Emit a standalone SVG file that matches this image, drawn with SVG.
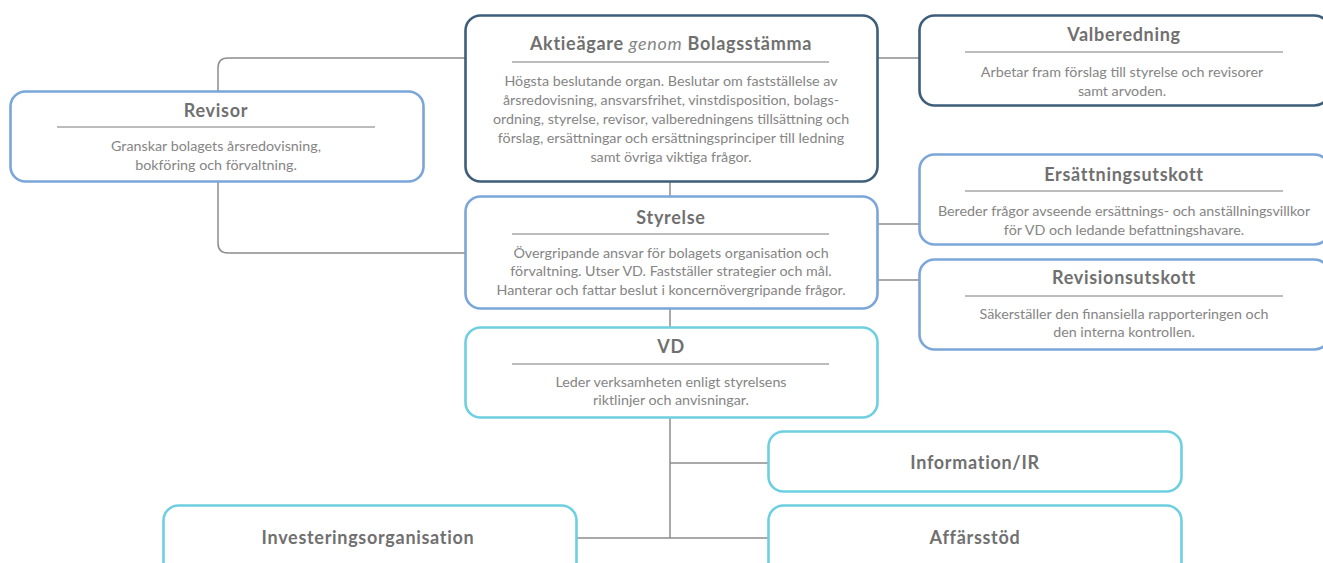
<svg xmlns="http://www.w3.org/2000/svg" width="1323" height="563" viewBox="0 0 1323 563">
<style>
.box{fill:#fff;stroke-width:2.6}
.dark{stroke:#3d5e7a}
.blue{stroke:#7aa6d9}
.cyan{stroke:#6ecfe2}
.sep{stroke:#7a7a7a;stroke-width:1}
.conn{fill:none;stroke:#8c8c8c;stroke-width:1.5}
.t{font-family:Lato,"Open Sans",sans-serif;font-size:18px;font-weight:bold;letter-spacing:0.7px;fill:#707070;text-anchor:middle}
.b{font-family:Lato,"Open Sans",sans-serif;font-size:14.3px;font-weight:normal;fill:#858585;text-anchor:middle}
</style>
<rect width="1323" height="563" fill="#fff"/>
<g id="connectors">
<path class="conn" d="M465 58 H228 Q218 58 218 68 V243 Q218 253 228 253 H465"/>
<path class="conn" d="M877 58 H919"/>
<path class="conn" d="M670 181 V197"/>
<path class="conn" d="M877 224 H919"/>
<path class="conn" d="M877 280 H919"/>
<path class="conn" d="M670 309 V328"/>
<path class="conn" d="M670 418 V538"/>
<path class="conn" d="M670 463 H768"/>
<path class="conn" d="M577 538 H768"/>
</g>
<g id="aktieagare">
<rect class="box dark" x="465.5" y="15.5" width="412" height="166" rx="15"/>
<text class="t" x="671" y="50">Aktieägare <tspan font-style="italic" font-weight="normal" fill="#858585">genom</tspan> Bolagsstämma</text>
<line class="sep" x1="512" y1="62" x2="829" y2="62"/>
<text class="b" x="671" y="86">Högsta beslutande organ. Beslutar om fastställelse av</text>
<text class="b" x="671" y="105">årsredovisning, ansvarsfrihet, vinstdisposition, bolags-</text>
<text class="b" x="671" y="124">ordning, styrelse, revisor, valberedningens tillsättning och</text>
<text class="b" x="671" y="143">förslag, ersättningar och ersättningsprinciper till ledning</text>
<text class="b" x="671" y="162">samt övriga viktiga frågor.</text>
</g>
<g id="valberedning">
<rect class="box dark" x="919.5" y="15.5" width="410" height="90" rx="15"/>
<text class="t" x="1124" y="41">Valberedning</text>
<line class="sep" x1="965" y1="52" x2="1283" y2="52"/>
<text class="b" x="1122" y="77">Arbetar fram förslag till styrelse och revisorer</text>
<text class="b" x="1122" y="96">samt arvoden.</text>
</g>
<g id="revisor">
<rect class="box blue" x="10.5" y="91.5" width="413" height="90" rx="15"/>
<text class="t" x="216" y="117">Revisor</text>
<line class="sep" x1="57" y1="127" x2="375" y2="127"/>
<text class="b" x="216" y="151">Granskar bolagets årsredovisning,</text>
<text class="b" x="216" y="170">bokföring och förvaltning.</text>
</g>
<g id="styrelse">
<rect class="box blue" x="465.5" y="196.5" width="412" height="112" rx="15"/>
<text class="t" x="671" y="224">Styrelse</text>
<line class="sep" x1="512" y1="234" x2="829" y2="234"/>
<text class="b" x="671" y="258">Övergripande ansvar för bolagets organisation och</text>
<text class="b" x="671" y="276">förvaltning. Utser VD. Fastställer strategier och mål.</text>
<text class="b" x="671" y="295">Hanterar och fattar beslut i koncernövergripande frågor.</text>
</g>
<g id="ersattningsutskott">
<rect class="box blue" x="919.5" y="154.5" width="410" height="90" rx="15"/>
<text class="t" x="1124" y="181">Ersättningsutskott</text>
<line class="sep" x1="965" y1="191" x2="1283" y2="191"/>
<text class="b" x="1124" y="216">Bereder frågor avseende ersättnings- och anställningsvillkor</text>
<text class="b" x="1124" y="235">för VD och ledande befattningshavare.</text>
</g>
<g id="revisionsutskott">
<rect class="box blue" x="919.5" y="259.5" width="410" height="90" rx="15"/>
<text class="t" x="1124" y="284">Revisionsutskott</text>
<line class="sep" x1="965" y1="296" x2="1283" y2="296"/>
<text class="b" x="1124" y="319">Säkerställer den finansiella rapporteringen och</text>
<text class="b" x="1124" y="337">den interna kontrollen.</text>
</g>
<g id="vd">
<rect class="box cyan" x="465.5" y="327.5" width="412" height="90" rx="15"/>
<text class="t" x="671" y="353">VD</text>
<line class="sep" x1="512" y1="364" x2="829" y2="364"/>
<text class="b" x="671" y="387">Leder verksamheten enligt styrelsens</text>
<text class="b" x="671" y="405">riktlinjer och anvisningar.</text>
</g>
<g id="information">
<rect class="box cyan" x="768.5" y="431.5" width="413" height="60" rx="15"/>
<text class="t" x="975" y="469">Information/IR</text>
</g>
<g id="affarsstod">
<rect class="box cyan" x="768.5" y="505.5" width="413" height="75" rx="15"/>
<text class="t" x="975" y="544">Affärsstöd</text>
</g>
<g id="investeringsorganisation">
<rect class="box cyan" x="163.5" y="505.5" width="413" height="75" rx="15"/>
<text class="t" x="368" y="544">Investeringsorganisation</text>
</g>
</svg>
